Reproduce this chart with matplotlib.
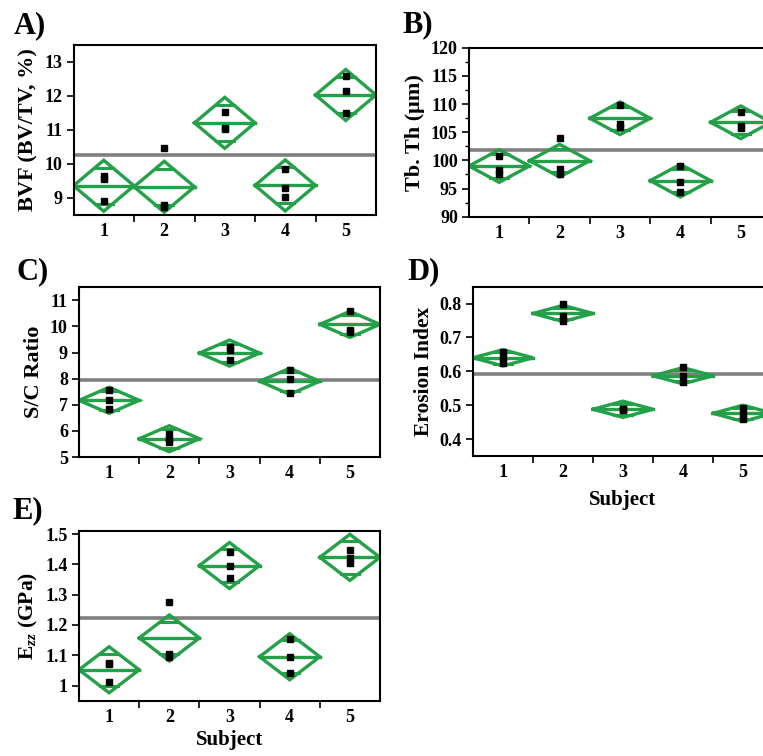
import matplotlib
matplotlib.use("Agg")
import matplotlib.pyplot as plt
import numpy as np

plt.rcParams['font.family'] = ['Liberation Serif', 'DejaVu Serif']
plt.rcParams['font.weight'] = 'bold'
plt.rcParams['mathtext.fontset'] = 'custom'
plt.rcParams['mathtext.rm'] = 'Liberation Serif:bold'
plt.rcParams['mathtext.it'] = 'Liberation Serif:bold:italic'
plt.rcParams['mathtext.bf'] = 'Liberation Serif:bold'

subjects = [1, 2, 3, 4, 5]

# Panel A: BVF
bvf_points = [[9.65, 9.55, 8.9], [10.47, 8.8, 8.75], [11.53, 11.06, 11.04],
              [9.86, 9.29, 9.03], [12.59, 12.15, 11.51]]
bvf_means = [9.36, 9.33, 11.21, 9.37, 12.03]
bvf_ci = 0.75
bvf_grand = 10.27

# Panel B: Tb.Th
tbth_points = [[100.7, 98.3, 97.6], [103.9, 98.5, 97.6], [109.9, 106.5, 105.9],
               [99.05, 96.1, 94.45], [108.5, 106.1, 105.7]]
tbth_means = [99.0, 99.94, 107.47, 96.4, 106.76]
tbth_ci = 2.9
tbth_grand = 101.9

# Panel C: S/C ratio
sc_points = [[7.58, 7.17, 6.82], [5.88, 5.7, 5.58], [9.21, 9.09, 8.70],
             [8.35, 7.97, 7.45], [10.6, 9.85, 9.8]]
sc_means = [7.17, 5.70, 8.98, 7.90, 10.08]
sc_ci = 0.5
sc_grand = 7.96

# Panel D: Erosion index
ei_points = [[0.658, 0.64, 0.625], [0.80, 0.763, 0.749], [0.49, 0.488, 0.485],
             [0.612, 0.585, 0.569], [0.493, 0.475, 0.459]]
ei_means = [0.640, 0.771, 0.488, 0.587, 0.476]
ei_ci = 0.024
ei_grand = 0.592

# Panel E: Ezz
ezz_points = [[1.073, 1.071, 1.012], [1.277, 1.104, 1.093], [1.44, 1.396, 1.355],
              [1.153, 1.095, 1.040], [1.448, 1.42, 1.405]]
ezz_means = [1.052, 1.157, 1.396, 1.095, 1.423]
ezz_ci = 0.076
ezz_grand = 1.224

GREEN = '#23a048'
W, H = 763, 756
fig = plt.figure(figsize=(W / 100, H / 100), dpi=100)


def make_ax(l, r, t, b):
    return fig.add_axes([l / W, 1 - b / H, (r - l) / W, (b - t) / H])


def panel(ax, points, means, ci, grand, ylim, yticks, ylabel, yminor=None,
          tickfs=13, labfs=15.5):
    ax.set_xlim(0.5, 5.5)
    ax.set_ylim(*ylim)
    ax.axhline(grand, color='#808080', lw=2.6, zorder=1)
    f = np.sqrt(2) / 2
    for x, m, pts in zip(subjects, means, points):
        hw = 0.5
        ax.plot([x - hw, x, x + hw, x, x - hw], [m, m + ci, m, m - ci, m],
                color=GREEN, lw=2.4, zorder=2, solid_joinstyle='miter')
        ax.plot([x - hw, x + hw], [m, m], color=GREEN, lw=2.4, zorder=2)
        ow = hw * (1 - f)
        for s in (1, -1):
            ax.plot([x - ow, x + ow], [m + s * f * ci] * 2, color=GREEN,
                    lw=2.2, zorder=2)
        ax.plot([x] * len(pts), pts, 's', color='black', ms=4.2, zorder=3)
    ax.set_xticks([1.5, 2.5, 3.5, 4.5])
    ax.set_xticklabels([])
    ax.set_xticks(subjects, minor=True)
    ax.set_xticklabels([str(s) for s in subjects], minor=True,
                       fontsize=tickfs, fontweight='bold')
    ax.tick_params(axis='x', which='major', direction='out', length=5,
                   width=1.2)
    ax.tick_params(axis='x', which='minor', length=0, pad=6)
    ax.set_yticks(yticks)
    ax.set_yticklabels([('%g' % v) for v in yticks], fontsize=tickfs,
                       fontweight='bold')
    if yminor is not None:
        ax.set_yticks(yminor, minor=True)
        ax.tick_params(axis='y', which='minor', direction='out', length=3,
                       width=1.0)
    ax.tick_params(axis='y', which='major', direction='out', length=5,
                   width=1.2, pad=3)
    for sp in ax.spines.values():
        sp.set_linewidth(1.5)
    ax.set_ylabel(ylabel, fontsize=labfs, fontweight='bold', labelpad=4)


axA = make_ax(73.5, 376, 45, 215)
panel(axA, bvf_points, bvf_means, bvf_ci, bvf_grand, (8.5, 13.5),
      [9, 10, 11, 12, 13], 'BVF (BV/TV, %)', labfs=16)

axB = make_ax(469, 771, 47.7, 216.7)
panel(axB, tbth_points, tbth_means, tbth_ci, tbth_grand, (90, 120),
      [90, 95, 100, 105, 110, 115, 120], 'Tb. Th (μm)',
      yminor=np.arange(92.5, 120, 5), tickfs=13, labfs=16)

axC = make_ax(79, 380, 287.3, 457)
panel(axC, sc_points, sc_means, sc_ci, sc_grand, (5, 11.5),
      [5, 6, 7, 8, 9, 10, 11], 'S/C Ratio', labfs=16)

axD = make_ax(473, 773, 286.7, 456)
panel(axD, ei_points, ei_means, ei_ci, ei_grand, (0.35, 0.85),
      [0.4, 0.5, 0.6, 0.7, 0.8], 'Erosion Index', labfs=15.5)
axD.set_xlabel('Subject', fontsize=15, fontweight='bold', labelpad=6)

axE = make_ax(79, 380, 531, 700.7)
panel(axE, ezz_points, ezz_means, ezz_ci, ezz_grand, (0.95, 1.51),
      [1, 1.1, 1.2, 1.3, 1.4, 1.5], r'E$_{\mathit{zz}}$ (GPa)', labfs=15.5)
axE.set_xlabel('Subject', fontsize=15, fontweight='bold', labelpad=3)

for lab, x, y in [('A)', 14, 33), ('B)', 402, 32), ('C)', 17, 279),
                  ('D)', 407, 279), ('E)', 12, 518)]:
    fig.text(x / W, 1 - y / H, lab, fontsize=22, fontweight='bold',
             ha='left', va='baseline')

fig.savefig('out.png', dpi=100)
